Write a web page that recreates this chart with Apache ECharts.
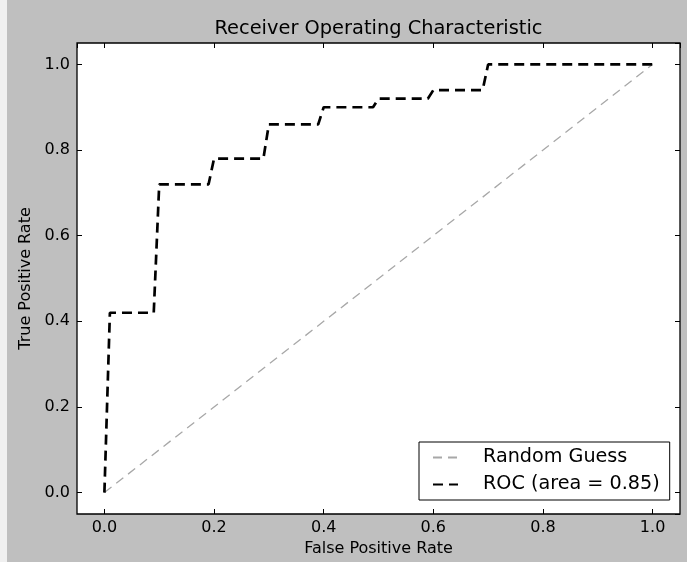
<!DOCTYPE html>
<html>
<head>
<meta charset="utf-8">
<script src="https://cdn.jsdelivr.net/npm/echarts@6/dist/echarts.min.js"></script>
<style>
  html, body { margin: 0; padding: 0; background: #f0f0f0; }
  #main { width: 687px; height: 562px; }
</style>
</head>
<body>
<div id="main"></div>
<script>
"use strict";
// ROC points
let rocFpr = [0, 0.01, 0.09, 0.10, 0.19, 0.20, 0.29, 0.30, 0.39, 0.40, 0.49, 0.50, 0.59, 0.60, 0.69, 0.70, 1.0];
let rocTpr = [0, 0.42, 0.42, 0.72, 0.72, 0.78, 0.78, 0.86, 0.86, 0.90, 0.90, 0.92, 0.92, 0.94, 0.94, 1.0, 1.0];
let guessX = [0, 1];
let guessY = [0, 1];
let axisMin = -0.05;
let axisMax = 1.05;

let font = 'DejaVu Sans';
let myChart = echarts.init(document.getElementById('main'));

function pairs(xs, ys) {
    let out = [];
    for (let i = 0; i < xs.length; i++) out.push([xs[i], ys[i]]);
    return out;
}

function tickAxis(extra) {
    return Object.assign({
        type: 'value',
        min: axisMin,
        max: axisMax,
        splitNumber: 5,
        axisLine: { show: false, onZero: false },
        axisTick: { show: true, inside: true, length: 5, lineStyle: { color: '#000', width: 1 } },
        splitLine: { show: false },
        axisLabel: { show: false }
    }, extra);
}

let labelStyle = {
    show: true,
    color: '#000',
    fontFamily: font,
    fontSize: 16,
    showMinLabel: false,
    showMaxLabel: false,
    formatter: function (v) { return v.toFixed(1); }
};

let option = {
    backgroundColor: '#bfbfbf',
    animation: false,
    // light strip at the far left of the figure
    graphic: [{
        type: 'rect',
        left: 0, top: 0,
        shape: { width: 7, height: 562 },
        style: { fill: '#f0f0f0' },
        silent: true
    }],
    title: {
        text: 'Receiver Operating Characteristic',
        left: 378.5,
        top: 19,
        padding: 0,
        textAlign: 'center',
        textStyle: { fontFamily: font, fontSize: 19.4, fontWeight: 'normal', color: '#000' }
    },
    grid: {
        left: 77, right: 7, top: 43, bottom: 48,
        show: true,
        backgroundColor: '#fff',
        borderColor: '#000',
        borderWidth: 1.3
    },
    xAxis: [
        tickAxis({
            position: 'bottom',
            name: 'False Positive Rate',
            nameLocation: 'middle',
            nameGap: 25,
            nameTextStyle: { fontFamily: font, fontSize: 16, color: '#000' },
            axisLabel: Object.assign({ margin: 6 }, labelStyle)
        }),
        tickAxis({ position: 'top' })
    ],
    yAxis: [
        tickAxis({
            position: 'left',
            name: 'True Positive Rate',
            nameLocation: 'middle',
            nameGap: 41,
            nameTextStyle: { fontFamily: font, fontSize: 16, color: '#000' },
            axisLabel: Object.assign({ margin: 7 }, labelStyle)
        }),
        tickAxis({ position: 'right' })
    ],
    legend: {
        orient: 'vertical',
        left: 419,
        top: 442,
        padding: [6, 10, 6, 13],
        itemGap: 8,
        itemWidth: 25,
        itemHeight: 14,
        backgroundColor: '#fff',
        borderColor: '#000',
        borderWidth: 1,
        borderRadius: 0,
        itemStyle: { opacity: 0 },
        textStyle: { fontFamily: font, fontSize: 19.2, color: '#000', padding: [0, 0, 0, 20] },
        data: ['Random Guess', 'ROC (area = 0.85)']
    },
    series: [
        {
            name: 'Random Guess',
            type: 'line',
            data: pairs(guessX, guessY),
            showSymbol: false,
            symbol: 'none',
            lineStyle: { color: '#a8a8a8', width: 1.3, type: [9, 6] },
            itemStyle: { color: '#a8a8a8' }
        },
        {
            name: 'ROC (area = 0.85)',
            type: 'line',
            data: pairs(rocFpr, rocTpr),
            showSymbol: false,
            symbol: 'none',
            lineStyle: { color: '#000', width: 2.7, type: [10, 6] },
            itemStyle: { color: '#000' }
        }
    ]
};
myChart.setOption(option);
</script>
</body>
</html>
